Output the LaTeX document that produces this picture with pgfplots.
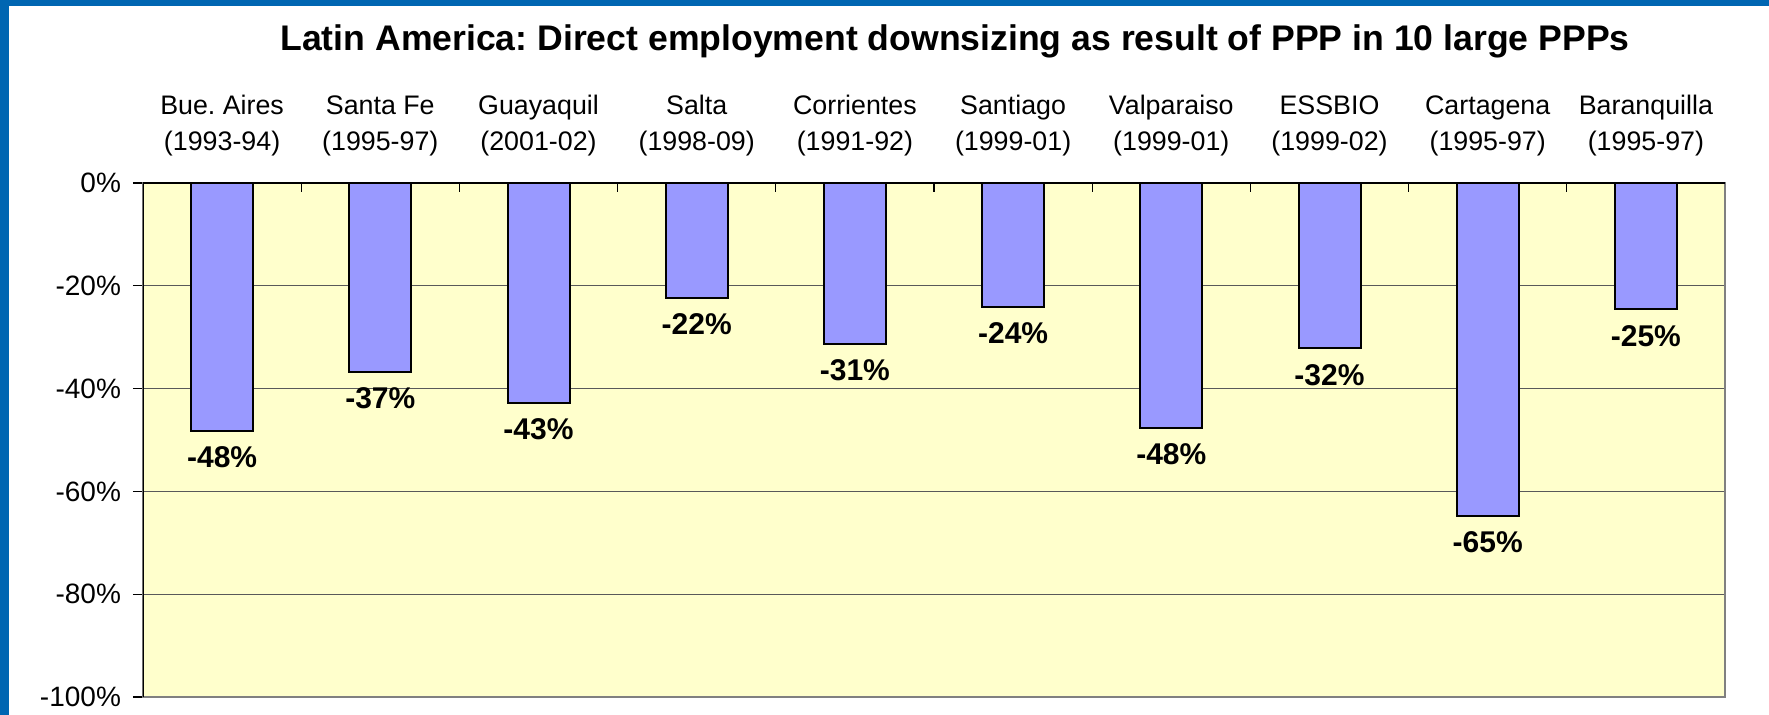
\documentclass[border=0pt]{standalone}
\usepackage{pgfplots}
\pgfplotsset{compat=1.18}
\usepackage{pgfplotstable}
\usepackage{fontspec}
\setmainfont{Liberation Sans}
\frenchspacing

\definecolor{frameblue}{HTML}{0066B2}
\definecolor{barblue}{HTML}{9999FF}
\definecolor{bgyellow}{HTML}{FFFFCC}

% x = category index, y = change in direct employment (%), lab = printed label
\pgfplotstableread{
x y lab
0 -48.2 -48
1 -36.8 -37
2 -42.8 -43
3 -22.4 -22
4 -31.3 -31
5 -24.1 -24
6 -47.6 -48
7 -32.2 -32
8 -64.8 -65
9 -24.6 -25
}\jobs

\begin{document}
\begin{tikzpicture}
\path[use as bounding box] (0,0) rectangle (884.5pt,357.5pt);
\fill[white] (0,0) rectangle (884.5pt,357.5pt);
\fill[frameblue] (0,0) rectangle (4.5pt,357.5pt);
\fill[frameblue] (0,354.5pt) rectangle (884.5pt,357.5pt);

\node[font=\bfseries\fontsize{17.8}{20}\selectfont] at (477.5pt,337pt)
  {Latin America: Direct employment downsizing as result of PPP in 10 large PPPs};

\begin{axis}[
    at={(71.5pt,9pt)}, anchor=south west,
    scale only axis, width=791pt, height=257pt,
    xmin=-0.5, xmax=9.5, ymin=-100, ymax=0,
    ybar, bar width=31pt,
    axis background/.style={fill=bgyellow},
    axis line style={draw=gray, line width=0.8pt},
    xtick={0,...,9},
    xticklabels={{Bue. Aires\\(1993-94)},{Santa Fe\\(1995-97)},{Guayaquil\\(2001-02)},
      {Salta\\(1998-09)},{Corrientes\\(1991-92)},{Santiago\\(1999-01)},
      {Valparaiso\\(1999-01)},{ESSBIO\\(1999-02)},{Cartagena\\(1995-97)},
      {Baranquilla\\(1995-97)}},
    xticklabel pos=upper, xtick pos=upper, xtick align=inside,
    major x tick style={draw=none},
    minor xtick={0.5,1.5,...,8.5},
    minor x tick style={black, line width=0.6pt},
    minor tick length=4.5pt,
    xticklabel style={align=center, anchor=south, yshift=10pt,
      font=\fontsize{13.4}{18}\selectfont},
    ytick={-100,-80,...,0},
    yticklabels={{-100\%},{-80\%},{-60\%},{-40\%},{-20\%},{0\%}},
    ytick pos=left, ytick align=outside,
    major tick length=5pt,
    y tick style={black, line width=0.6pt},
    yticklabel style={font=\fontsize{14}{16}\selectfont, xshift=-2.5pt},
    ymajorgrids,
    major grid style={black!65, line width=0.5pt},
    point meta=explicit symbolic,
    nodes near coords={\pgfplotspointmeta\%},
    nodes near coords style={font=\bfseries\fontsize{15}{17}\selectfont,
      anchor=north, yshift=-4pt},
]
\addplot[fill=barblue, draw=black, line width=1pt] table[x=x, y=y, meta=lab] {\jobs};
\draw[black, line width=0.6pt] (rel axis cs:0,0) -- (rel axis cs:0,1) -- (rel axis cs:1,1);
\end{axis}
\end{tikzpicture}
\end{document}
